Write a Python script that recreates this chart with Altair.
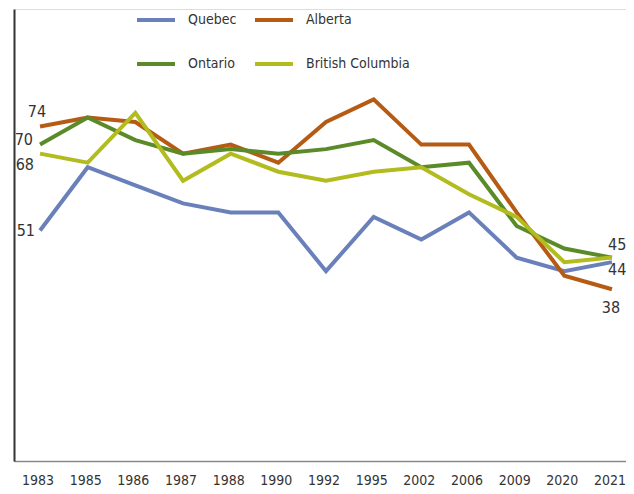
import altair as alt
import pandas as pd

years = ["1983", "1985", "1986", "1987", "1988", "1990", "1992", "1995",
         "2002", "2006", "2009", "2020", "2021"]
quebec = [51, 65, 61, 57, 55, 55, 42, 54, 49, 55, 45, 42, 44]
alberta = [74, 76, 75, 68, 70, 66, 75, 80, 70, 70, 55, 41, 38]
ontario = [70, 76, 71, 68, 69, 68, 69, 71, 65, 66, 52, 47, 45]
british_columbia = [68, 66, 77, 62, 68, 64, 62, 64, 65, 59, 54, 44, 45]

series_names = ["Quebec", "Alberta", "Ontario", "British Columbia"]
series_values = [quebec, alberta, ontario, british_columbia]
series_colors = {"Quebec": "#6A80BA", "Alberta": "#B65B14",
                 "Ontario": "#5B8A29", "British Columbia": "#B3BC1E"}
# legend fills column by column: this order gives rows Quebec|Alberta, Ontario|BC
legend_order = ["Quebec", "Ontario", "Alberta", "British Columbia"]

FONT = "Liberation Sans Narrow, DejaVu Sans Condensed, Roboto, sans-serif"
TEXT = "#333333"

rows = []
for name, vals in zip(series_names, series_values):
    for y, v in zip(years, vals):
        rows.append({"year": y, "series": name, "value": v})
df = pd.DataFrame(rows)

x_enc = alt.X(
    "year:N", sort=years,
    scale=alt.Scale(type="point", padding=0.42, align=0.65),
    axis=alt.Axis(title=None, labelAngle=0, ticks=False, grid=False,
                  domainColor="#888888", domainWidth=1.5,
                  labelFont=FONT, labelFontSize=14, labelColor=TEXT,
                  labelPadding=12, labelOffset=-2.5),
)
y_enc = alt.Y(
    "value:Q",
    scale=alt.Scale(domain=[0, 100], nice=False, zero=True),
    axis=alt.Axis(title=None, labels=False, ticks=False, grid=False,
                  domainColor="#333333", domainWidth=2),
)
color_enc = alt.Color(
    "series:N",
    scale=alt.Scale(domain=legend_order,
                    range=[series_colors[n] for n in legend_order]),
    legend=alt.Legend(title=None, orient="none", legendX=121, legendY=-10,
                      columns=2, symbolType="stroke", symbolSize=1444,
                      symbolStrokeWidth=4, labelFont=FONT, labelFontSize=14,
                      labelColor=TEXT, columnPadding=10, rowPadding=15,
                      labelOffset=11, padding=0),
)

base = alt.Chart(df)
layers = []
for name in series_names:
    layers.append(
        base.transform_filter(alt.datum.series == name)
        .mark_line(strokeWidth=4)
        .encode(x=x_enc, y=y_enc, color=color_enc)
    )

# value labels: (series, year index, dx, dy, align)
label_specs = [
    ("Alberta", 0, -3, -15, "center"),
    ("Ontario", 0, -7, -5, "right"),
    ("British Columbia", 0, -6, 11, "right"),
    ("Quebec", 0, -5, 1, "right"),
    ("Ontario", 12, -4, -13, "left"),
    ("Quebec", 12, -4, 8, "left"),
    ("Alberta", 12, -1, 19, "center"),
]
for name, idx, dx, dy, align in label_specs:
    v = series_values[series_names.index(name)][idx]
    ldf = pd.DataFrame({"year": [years[idx]], "value": [v], "text": [str(v)]})
    layers.append(
        alt.Chart(ldf).mark_text(font=FONT, fontSize=16, color=TEXT,
                                 dx=dx, dy=dy, align=align,
                                 baseline="middle")
        .encode(x=alt.X("year:N", sort=years), y=alt.Y("value:Q"),
                text="text:N")
    )

chart = alt.layer(*layers).properties(
    width=612, height=452,
    autosize=alt.AutoSizeParams(type="none"),
    padding={"left": 6, "top": 1, "right": 0, "bottom": 30},
).configure_view(stroke=None).configure(background="white")

chart.save("out.html", embed_options={"renderer": "svg", "actions": False})
